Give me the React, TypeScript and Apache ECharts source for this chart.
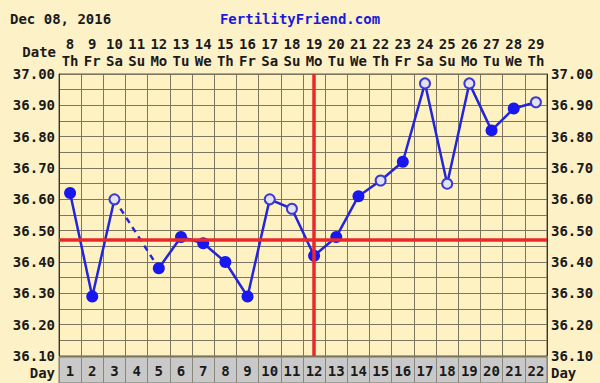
import React, { useEffect, useRef } from "react";
import * as echarts from "echarts";

const dayNumbers = ["1","2","3","4","5","6","7","8","9","10","11","12","13","14","15","16","17","18","19","20","21","22"];
const dates = ["8","9","10","11","12","13","14","15","16","17","18","19","20","21","22","23","24","25","26","27","28","29"];
const weekdays = ["Th","Fr","Sa","Su","Mo","Tu","We","Th","Fr","Sa","Su","Mo","Tu","We","Th","Fr","Sa","Su","Mo","Tu","We","Th"];
const temps: (number | null)[] = [36.62, 36.29, 36.60, null, 36.38, 36.48, 36.46, 36.40, 36.29, 36.60, 36.57, 36.42, 36.48, 36.61, 36.66, 36.72, 36.97, 36.65, 36.97, 36.82, 36.89, 36.91];
const openMarker = [false, false, true, false, false, false, false, false, false, true, true, false, false, false, true, false, true, true, true, false, false, true];
const coverline = 36.47;
const ovulationDay = "12";
const yMin = 36.1;
const yMax = 37.0;
const yStep = 0.05;

const MONO = "'DejaVu Sans Mono', monospace";
const BLUE = "#2424dc";

export default function App() {
  const ref = useRef<HTMLDivElement>(null);
  useEffect(() => {
    document.body.style.margin = "0";
    const chart = echarts.init(ref.current!, undefined, { renderer: "svg" });

    // dashed bridge across missing days
    const bridge: (number | null)[] = temps.map(() => null);
    for (let i = 0; i < temps.length; i++) {
      if (temps[i] === null) {
        let a = i - 1, b = i + 1;
        while (a >= 0 && temps[a] === null) a--;
        while (b < temps.length && temps[b] === null) b++;
        if (a >= 0 && b < temps.length) { bridge[a] = temps[a]; bridge[b] = temps[b]; }
      }
    }

    const yLabel = (v: number) => {
      const r = Math.round(v * 100);
      return r % 10 === 0 ? (r / 100).toFixed(2) : "";
    };

    const mainData = temps.map((t, i) =>
      t === null
        ? null
        : {
            value: t,
            symbol: "circle",
            symbolSize: openMarker[i] ? 10 : 12,
            itemStyle: openMarker[i]
              ? { color: "#e4e2f2", borderColor: "#3a3ad6", borderWidth: 2 }
              : { color: "#1818ee", borderColor: "#1818ee", borderWidth: 0 },
          }
    );

    const labelStyle = { fontFamily: MONO, fontWeight: "bold" as const, fontSize: 14, color: "#1a1a1a" };
    const gText = (text: string, x: number, y: number, align: string) => ({
      type: "text", x, y,
      style: { text, fontFamily: MONO, fontWeight: "bold", fontSize: 14, fill: "#1a1a1a", align, verticalAlign: "middle" },
    });

    chart.setOption({
      animation: false,
      backgroundColor: "#fdf1c8",
      title: [
        { text: "Dec 08, 2016", left: 5, top: 7, textStyle: { ...labelStyle, fontSize: 14 } },
        { text: "FertilityFriend.com", left: "center", top: 7, textStyle: { ...labelStyle, fontSize: 14, color: "#1a1ad8" } },
      ],
      graphic: [
        gText("Date", 56, 52, "right"),
        gText("Day", 55, 373, "right"),
        gText("Day", 551, 373, "left"),
      ],
      grid: [
        { left: 59, right: 53, top: 74, bottom: 27, show: true, backgroundColor: "#fff2c2", borderColor: "#5a5448", borderWidth: 1 },
        { left: 59, right: 53, top: 357, bottom: 0, show: true, backgroundColor: "#c9c9c9", borderColor: "#77746c", borderWidth: 1 },
      ],
      xAxis: [
        {
          type: "category", gridIndex: 0, data: dayNumbers, boundaryGap: true,
          axisLine: { show: false }, axisTick: { show: false }, axisLabel: { show: false },
          splitLine: { show: true, interval: 0, lineStyle: { color: "#7c7560", width: 1 } },
        },
        {
          type: "category", gridIndex: 0, position: "top", data: dates.map((d, i) => d + "\n" + weekdays[i]), boundaryGap: true,
          axisLine: { show: false }, axisTick: { show: false },
          axisLabel: { interval: 0, margin: 5, ...labelStyle, lineHeight: 17 },
        },
        {
          type: "category", gridIndex: 1, position: "bottom", data: dayNumbers, boundaryGap: true,
          axisLine: { show: false }, axisTick: { show: false },
          axisLabel: { interval: 0, inside: true, margin: 5, ...labelStyle },
          splitLine: { show: true, interval: 0, lineStyle: { color: "#8a877e", width: 1 } },
        },
      ],
      yAxis: [
        {
          type: "value", gridIndex: 0, position: "left", min: yMin, max: yMax, interval: yStep,
          axisLine: { show: true, lineStyle: { color: "#3a352a" } }, axisTick: { show: false },
          axisLabel: { margin: 4, formatter: yLabel, ...labelStyle, showMinLabel: true, showMaxLabel: true },
          splitLine: { show: true, lineStyle: { color: "#7c7560", width: 1 } },
        },
        {
          type: "value", gridIndex: 0, position: "right", min: yMin, max: yMax, interval: yStep,
          axisLine: { show: true, lineStyle: { color: "#3a352a" } }, axisTick: { show: false },
          axisLabel: { margin: 4, formatter: yLabel, ...labelStyle, showMinLabel: true, showMaxLabel: true },
          splitLine: { show: false },
        },
        {
          type: "value", gridIndex: 1, show: false,
        },
      ],
      series: [
        {
          type: "line", xAxisIndex: 0, yAxisIndex: 0, data: bridge, connectNulls: true, showSymbol: false,
          lineStyle: { color: BLUE, width: 2.5, type: [6, 5] }, z: 3, silent: true,
        },
        {
          type: "line", xAxisIndex: 0, yAxisIndex: 0, data: mainData, connectNulls: false,
          lineStyle: { color: BLUE, width: 2.5 }, z: 4,
          markLine: {
            silent: true, symbol: "none", label: { show: false },
            lineStyle: { color: "#e8282a", width: 3.5, type: "solid" },
            data: [{ yAxis: coverline }, { xAxis: ovulationDay }],
          },
        },
      ],
    });
    return () => chart.dispose();
  }, []);
  return <div ref={ref} style={{ width: 600, height: 383 }} />;
}
